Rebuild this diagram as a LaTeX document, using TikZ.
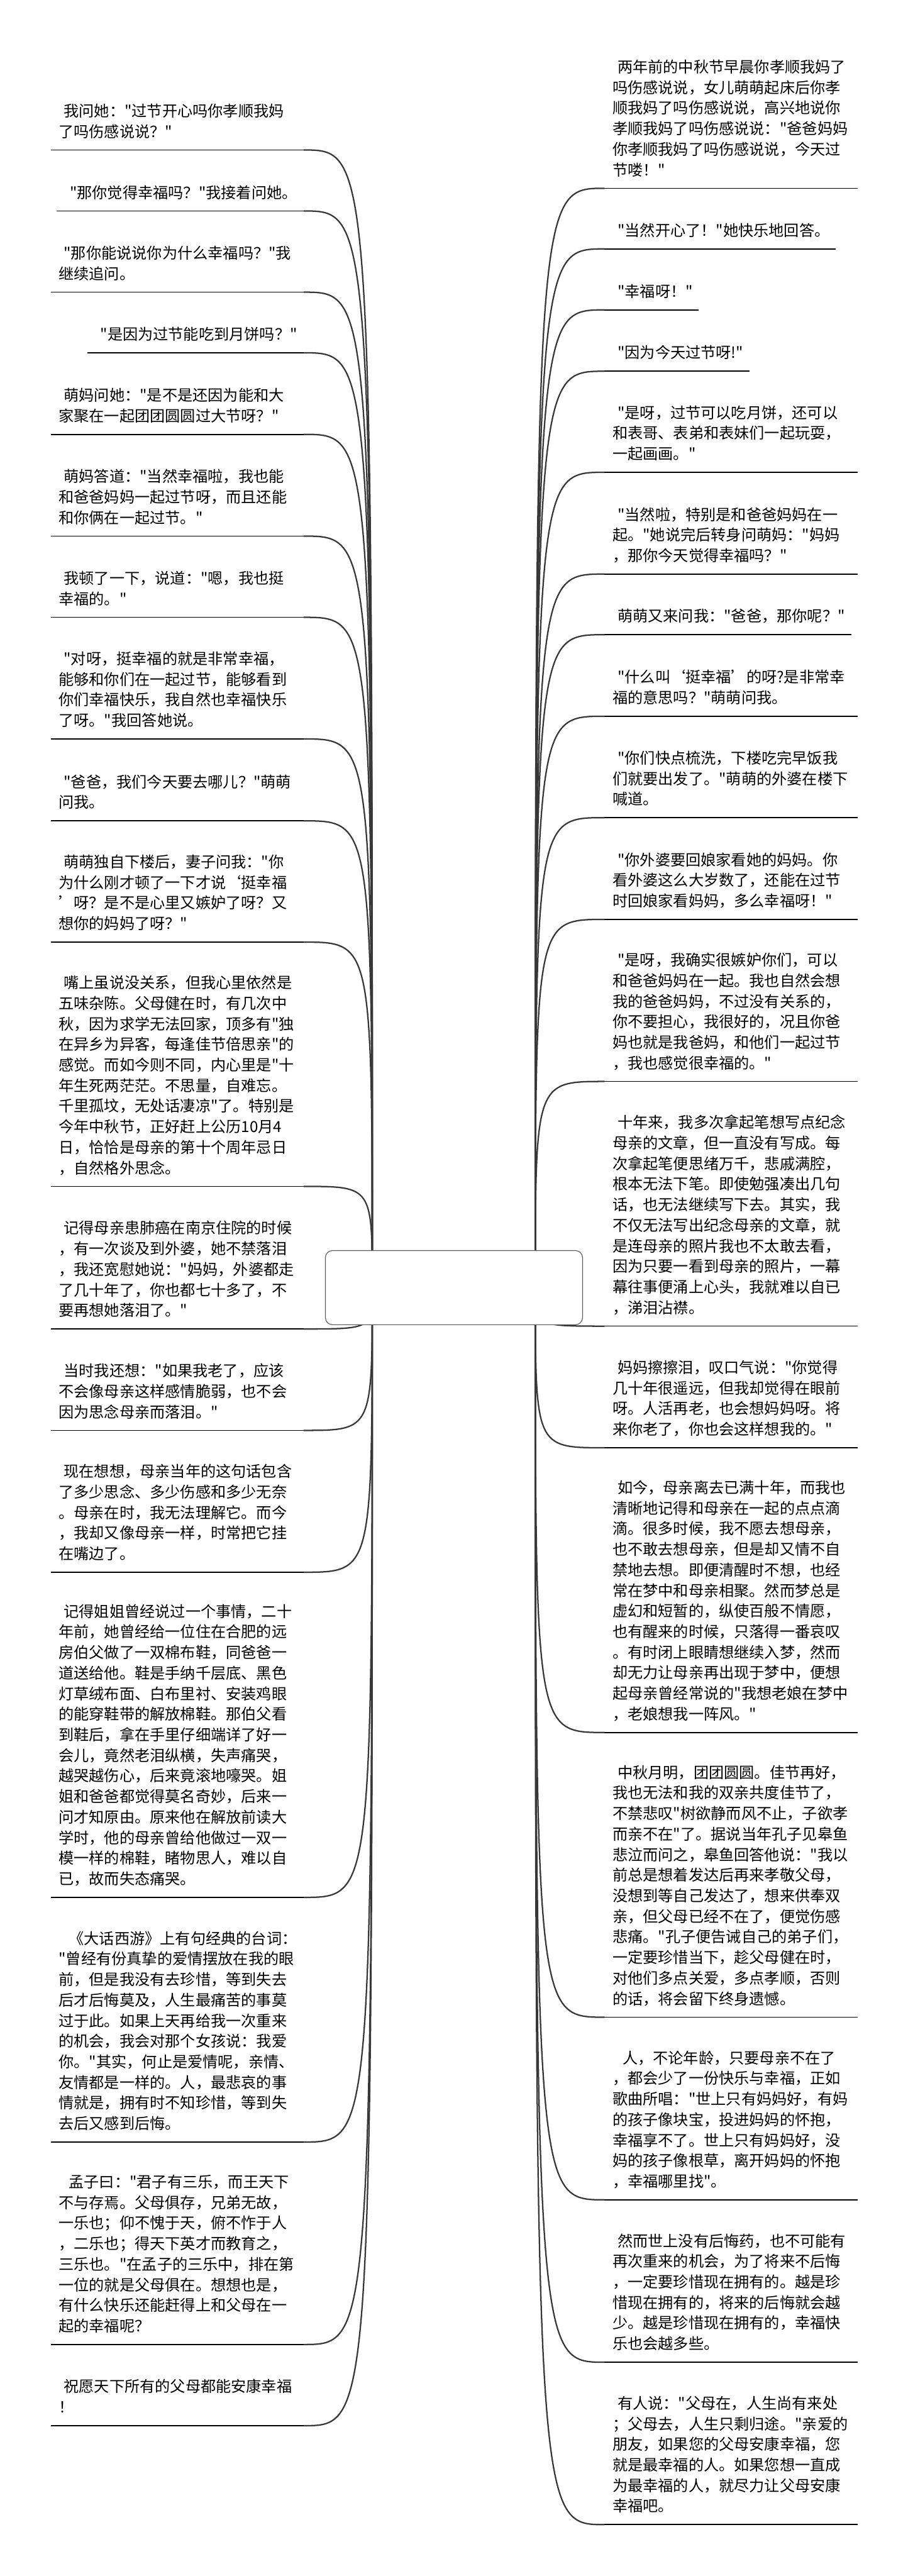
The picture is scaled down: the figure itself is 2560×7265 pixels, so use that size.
\documentclass[tikz,border=0pt]{standalone}
\usepackage{fontspec}
\newfontfamily\cjkfont{Noto Sans CJK SC}
\newcommand\leaffont{\cjkfont\fontsize{12.2pt}{16.5pt}\selectfont}
\begin{document}
\begin{tikzpicture}[x=0.01cm,y=-0.01cm,
  leaf/.style={anchor=south west, inner xsep=0.22cm, inner ysep=0.18cm, align=left, font=\leaffont, text width=#1},
  uline/.style={draw=black, line width=0.03cm},
  conn/.style={draw=black!78, line width=0.04cm},
  rootbox/.style={draw=black!65, line width=0.02cm, fill=white, rounded corners=0.2cm, minimum width=7.25cm, minimum height=2.09cm, inner sep=0pt}]
\useasboundingbox (0,0) rectangle (2560,7265);
\coordinate (rootL) at (1050,3631);
\coordinate (rootR) at (1510,3631);
% ---------------- left ----------------
\node[leaf=6.68cm] (l1) at (143,423) {~我问她："过节开心吗你孝顺我妈\\了吗伤感说说？"\strut};
\node[leaf=6.51cm] (l2) at (160,595) {~"那你觉得幸福吗？"我接着问她。\strut};
\node[leaf=6.68cm] (l3) at (143,824) {~"那你能说说你为什么幸福吗？"我\\继续追问。\strut};
\node[leaf=5.65cm] (l4) at (246,995) {~"是因为过节能吃到月饼吗？"\strut};
\node[leaf=6.68cm] (l5) at (143,1225) {~萌妈问她："是不是还因为能和大\\家聚在一起团团圆圆过大节呀？"\strut};
\node[leaf=6.68cm] (l6) at (143,1512) {~萌妈答道："当然幸福啦，我也能\\和爸爸妈妈一起过节呀，而且还能\\和你俩在一起过节。"\strut};
\node[leaf=6.68cm] (l7) at (143,1741) {~我顿了一下，说道："嗯，我也挺\\幸福的。"\strut};
\node[leaf=6.68cm] (l8) at (143,2084) {~"对呀，挺幸福的就是非常幸福，\\能够和你们在一起过节，能够看到\\你们幸福快乐，我自然也幸福快乐\\了呀。"我回答她说。\strut};
\node[leaf=6.68cm] (l9) at (143,2315) {~"爸爸，我们今天要去哪儿？"萌萌\\问我。\strut};
\node[leaf=6.68cm] (l10) at (143,2657) {~萌萌独自下楼后，妻子问我："你\\为什么刚才顿了一下才说‘挺幸福\\’呀？是不是心里又嫉妒了呀？又\\想你的妈妈了呀？"\strut};
\node[leaf=6.68cm] (l11) at (143,3346) {~嘴上虽说没关系，但我心里依然是\\五味杂陈。父母健在时，有几次中\\秋，因为求学无法回家，顶多有"独\\在异乡为异客，每逢佳节倍思亲"的\\感觉。而如今则不同，内心里是"十\\年生死两茫茫。不思量，自难忘。\\千里孤坟，无处话凄凉"了。特别是\\今年中秋节，正好赶上公历10月4\\日，恰恰是母亲的第十个周年忌日\\，自然格外思念。\strut};
\node[leaf=6.68cm] (l12) at (143,3748) {~记得母亲患肺癌在南京住院的时候\\，有一次谈及到外婆，她不禁落泪\\，我还宽慰她说："妈妈，外婆都走\\了几十年了，你也都七十多了，不\\要再想她落泪了。"\strut};
\node[leaf=6.68cm] (l13) at (143,4034) {~当时我还想："如果我老了，应该\\不会像母亲这样感情脆弱，也不会\\因为思念母亲而落泪。"\strut};
\node[leaf=6.68cm] (l14) at (143,4434) {~现在想想，母亲当年的这句话包含\\了多少思念、多少伤感和多少无奈\\。母亲在时，我无法理解它。而今\\，我却又像母亲一样，时常把它挂\\在嘴边了。\strut};
\node[leaf=6.68cm] (l15) at (143,5351) {~记得姐姐曾经说过一个事情，二十\\年前，她曾经给一位住在合肥的远\\房伯父做了一双棉布鞋，同爸爸一\\道送给他。鞋是手纳千层底、黑色\\灯草绒布面、白布里衬、安装鸡眼\\的能穿鞋带的解放棉鞋。那伯父看\\到鞋后，拿在手里仔细端详了好一\\会儿，竟然老泪纵横，失声痛哭，\\越哭越伤心，后来竟滚地嚎哭。姐\\姐和爸爸都觉得莫名奇妙，后来一\\问才知原由。原来他在解放前读大\\学时，他的母亲曾给他做过一双一\\模一样的棉鞋，睹物思人，难以自\\已，故而失态痛哭。\strut};
\node[leaf=6.68cm] (l16) at (143,6041) {~~《大话西游》上有句经典的台词：\\"曾经有份真挚的爱情摆放在我的眼\\前，但是我没有去珍惜，等到失去\\后才后悔莫及，人生最痛苦的事莫\\过于此。如果上天再给我一次重来\\的机会，我会对那个女孩说：我爱\\你。"其实，何止是爱情呢，亲情、\\友情都是一样的。人，最悲哀的事\\情就是，拥有时不知珍惜，等到失\\去后又感到后悔。\strut};
\node[leaf=6.68cm] (l17) at (143,6612) {~~孟子曰："君子有三乐，而王天下\\不与存焉。父母俱存，兄弟无故，\\一乐也；仰不愧于天，俯不怍于人\\，二乐也；得天下英才而教育之，\\三乐也。"在孟子的三乐中，排在第\\一位的就是父母俱在。想想也是，\\有什么快乐还能赶得上和父母在一\\起的幸福呢？\strut};
\node[leaf=6.68cm] (l18) at (143,6841) {~祝愿天下所有的父母都能安康幸福\\！\strut};
% ---------------- right ----------------
\node[leaf=6.68cm] (r1) at (1705,531) {~两年前的中秋节早晨你孝顺我妈了\\吗伤感说说，女儿萌萌起床后你孝\\顺我妈了吗伤感说说，高兴地说你\\孝顺我妈了吗伤感说说："爸爸妈妈\\你孝顺我妈了吗伤感说说，今天过\\节喽！"\strut};
\node[leaf=6.07cm] (r2) at (1705,702) {~"当然开心了！"她快乐地回答。\strut};
\node[leaf=2.20cm] (r3) at (1705,874) {~"幸福呀！"\strut};
\node[leaf=3.64cm] (r4) at (1705,1047) {~"因为今天过节呀!"\strut};
\node[leaf=6.68cm] (r5) at (1705,1332) {~"是呀，过节可以吃月饼，还可以\\和表哥、表弟和表妹们一起玩耍，\\一起画画。"\strut};
\node[leaf=6.68cm] (r6) at (1705,1619) {~"当然啦，特别是和爸爸妈妈在一\\起。"她说完后转身问萌妈："妈妈\\，那你今天觉得幸福吗？"\strut};
\node[leaf=6.50cm] (r7) at (1705,1790) {~萌萌又来问我："爸爸，那你呢？"\strut};
\node[leaf=6.68cm] (r8) at (1705,2020) {~"什么叫‘挺幸福’的呀?是非常幸\\福的意思吗？"萌萌问我。\strut};
\node[leaf=6.68cm] (r9) at (1705,2306) {~"你们快点梳洗，下楼吃完早饭我\\们就要出发了。"萌萌的外婆在楼下\\喊道。\strut};
\node[leaf=6.68cm] (r10) at (1705,2593) {~"你外婆要回娘家看她的妈妈。你\\看外婆这么大岁数了，还能在过节\\时回娘家看妈妈，多么幸福呀！"\strut};
\node[leaf=6.68cm] (r11) at (1705,3050) {~"是呀，我确实很嫉妒你们，可以\\和爸爸妈妈在一起。我也自然会想\\我的爸爸妈妈，不过没有关系的，\\你不要担心，我很好的，况且你爸\\妈也就是我爸妈，和他们一起过节\\，我也感觉很幸福的。"\strut};
\node[leaf=6.68cm] (r12) at (1705,3740) {~十年来，我多次拿起笔想写点纪念\\母亲的文章，但一直没有写成。每\\次拿起笔便思绪万千，悲戚满腔，\\根本无法下笔。即使勉强凑出几句\\话，也无法继续写下去。其实，我\\不仅无法写出纪念母亲的文章，就\\是连母亲的照片我也不太敢去看，\\因为只要一看到母亲的照片，一幕\\幕往事便涌上心头，我就难以自已\\，涕泪沾襟。\strut};
\node[leaf=6.68cm] (r13) at (1705,4083) {~妈妈擦擦泪，叹口气说："你觉得\\几十年很遥远，但我却觉得在眼前\\呀。人活再老，也会想妈妈呀。将\\来你老了，你也会这样想我的。"\strut};
\node[leaf=6.68cm] (r14) at (1705,4886) {~如今，母亲离去已满十年，而我也\\清晰地记得和母亲在一起的点点滴\\滴。很多时候，我不愿去想母亲，\\也不敢去想母亲，但是却又情不自\\禁地去想。即便清醒时不想，也经\\常在梦中和母亲相聚。然而梦总是\\虚幻和短暂的，纵使百般不情愿，\\也有醒来的时候，只落得一番哀叹\\。有时闭上眼睛想继续入梦，然而\\却无力让母亲再出现于梦中，便想\\起母亲曾经常说的"我想老娘在梦中\\，老娘想我一阵风。"\strut};
\node[leaf=6.68cm] (r15) at (1705,5689) {~中秋月明，团团圆圆。佳节再好，\\我也无法和我的双亲共度佳节了，\\不禁悲叹"树欲静而风不止，子欲孝\\而亲不在"了。据说当年孔子见皋鱼\\悲泣而问之，皋鱼回答他说："我以\\前总是想着发达后再来孝敬父母，\\没想到等自己发达了，想来供奉双\\亲，但父母已经不在了，便觉伤感\\悲痛。"孔子便告诫自己的弟子们，\\一定要珍惜当下，趁父母健在时，\\对他们多点关爱，多点孝顺，否则\\的话，将会留下终身遗憾。\strut};
\node[leaf=6.68cm] (r16) at (1705,6204) {~~人，不论年龄，只要母亲不在了\\，都会少了一份快乐与幸福，正如\\歌曲所唱："世上只有妈妈好，有妈\\的孩子像块宝，投进妈妈的怀抱，\\幸福享不了。世上只有妈妈好，没\\妈的孩子像根草，离开妈妈的怀抱\\，幸福哪里找"。\strut};
\node[leaf=6.68cm] (r17) at (1705,6662) {~然而世上没有后悔药，也不可能有\\再次重来的机会，为了将来不后悔\\，一定要珍惜现在拥有的。越是珍\\惜现在拥有的，将来的后悔就会越\\少。越是珍惜现在拥有的，幸福快\\乐也会越多些。\strut};
\node[leaf=6.68cm] (r18) at (1705,7120) {~有人说："父母在，人生尚有来处\\；父母去，人生只剩归途。"亲爱的\\朋友，如果您的父母安康幸福，您\\就是最幸福的人。如果您想一直成\\为最幸福的人，就尽力让父母安康\\幸福吧。\strut};
% ---------------- underlines and connectors ----------------
\foreach \n in {l1,l2,l3,l4,l5,l6,l7,l8,l9,l10,l11,l12,l13,l14,l15,l16,l17,l18}{
  \draw[uline] (\n.south west) -- (\n.south east);
  \draw[conn] (\n.south east) .. controls (rootL |- \n.south east) and (rootL |- \n.south east) .. (rootL);
}
\foreach \n in {r1,r2,r3,r4,r5,r6,r7,r8,r9,r10,r11,r12,r13,r14,r15,r16,r17,r18}{
  \draw[uline] (\n.south west) -- (\n.south east);
  \draw[conn] (\n.south west) .. controls (rootR |- \n.south west) and (rootR |- \n.south west) .. (rootR);
}
% ---------------- root ----------------
\node[rootbox] (root) at (1280.5,3631.5) {};
\end{tikzpicture}
\end{document}
